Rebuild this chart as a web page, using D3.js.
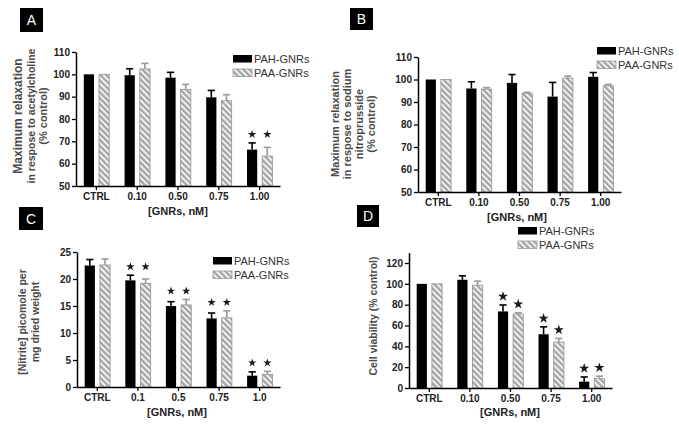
<!DOCTYPE html>
<html><head><meta charset="utf-8">
<script src="https://cdn.jsdelivr.net/npm/d3@7"></script>
<style>
html,body{margin:0;padding:0;background:#fff;}
svg{display:block;font-family:"Liberation Sans",Arial,sans-serif;}
</style></head>
<body>
<svg id="chart" width="679" height="426"></svg>
<script>
// ---- data ----
const seriesNames = ["PAH-GNRs", "PAA-GNRs"];
const catsAB = ["CTRL", "0.10", "0.50", "0.75", "1.00"];
const catsC = ["CTRL", "0.1", "0.5", "0.75", "1.0"];
const catsD = ["CTRL", "0.10", "0.50", "0.75", "1.00"];

const pahA = [100, 99.6, 98.5, 89.7, 66.3];
const pahAErr = [0, 2.9, 2.4, 3.1, 3.0];
const paaA = [100, 102.4, 93.2, 88.2, 63.4];
const paaAErr = [0, 2.5, 2.3, 2.7, 3.9];
const sigA = [false, false, false, false, true];

const pahB = [100, 96.0, 98.5, 92.4, 101.2];
const pahBErr = [0, 3.0, 3.7, 6.3, 1.9];
const paaB = [100, 95.7, 93.9, 100.6, 97.2];
const paaBErr = [0, 0.7, 0.4, 0.9, 0.6];
const sigB = [false, false, false, false, false];

const pahC = [22.5, 19.75, 15.0, 12.7, 2.1];
const pahCErr = [1.1, 0.95, 0.8, 1.0, 0.7];
const paaC = [22.6, 19.2, 15.2, 12.8, 2.35];
const paaCErr = [1.1, 0.8, 1.0, 1.3, 0.55];
const sigC = [false, true, true, true, true];

const pahD = [100, 103.9, 73.5, 51.6, 6.1];
const pahDErr = [0, 3.8, 6.2, 7.1, 4.5];
const paaD = [100, 98.7, 71.0, 44.1, 9.0];
const paaDErr = [0, 3.9, 1.3, 3.5, 2.3];
const sigD = [false, false, true, true, true];

const ticksAB = [50, 60, 70, 80, 90, 100, 110];
const ticksC = [0, 5, 10, 15, 20, 25];
const ticksD = [0, 20, 40, 60, 80, 100, 120];

const xTitle = "[GNRs, nM]";

// ---- drawing ----
const svg = d3.select("#chart");
const defs = svg.append("defs");
const pat = defs.append("pattern").attr("id", "hatch")
  .attr("patternUnits", "userSpaceOnUse").attr("width", 4.2).attr("height", 4.2)
  .attr("patternTransform", "rotate(-45)");
pat.append("rect").attr("width", 4.2).attr("height", 4.2).attr("fill", "#f2f2f2");
pat.append("rect").attr("width", 2.2).attr("height", 4.2).attr("fill", "#a3a3a3");

function panel(cfg) {
  const g = svg.append("g");
  const x = d3.scaleBand().domain(cfg.cats).range([cfg.x0, cfg.x1]).padding(0);
  const y = d3.scaleLinear().domain(cfg.domain).range([cfg.yb, cfg.yt]);
  const bw = 10.2;

  cfg.cats.forEach((c, i) => {
    const cx = x(c) + x.bandwidth() / 2;
    const base = y(cfg.domain[0]);
    const xa = cx - 12.6, xb = cx + 2.6;
    g.append("rect").attr("x", xa).attr("y", y(cfg.pah[i])).attr("width", bw)
      .attr("height", base - y(cfg.pah[i])).attr("fill", "#000");
    g.append("rect").attr("x", xb).attr("y", y(cfg.paa[i])).attr("width", bw)
      .attr("height", base - y(cfg.paa[i])).attr("fill", "url(#hatch)")
      .attr("stroke", "#9a9a9a").attr("stroke-width", 0.9);
    const eb = (xc, v, e, col) => {
      if (e <= 0) return;
      g.append("line").attr("x1", xc).attr("x2", xc).attr("y1", y(v)).attr("y2", y(v + e))
        .attr("stroke", col).attr("stroke-width", 1.6);
      g.append("line").attr("x1", xc - 3.6).attr("x2", xc + 3.6).attr("y1", y(v + e)).attr("y2", y(v + e))
        .attr("stroke", col).attr("stroke-width", 1.6);
    };
    eb(xa + bw / 2, cfg.pah[i], cfg.pahErr[i], "#000");
    eb(xb + bw / 2, cfg.paa[i], cfg.paaErr[i], "#9a9a9a");
    if (cfg.sig[i]) {
      const tA = y(cfg.pah[i] + cfg.pahErr[i]);
      const tB = y(cfg.paa[i] + cfg.paaErr[i]);
      let sA, sB;
      if (cfg.perBar) { sA = tA - 8.5; sB = tB - 8.5; }
      else { sA = sB = Math.min(tA, tB) - 8.5; }
      const star = d3.symbol().type(d3.symbolStar).size(cfg.starSize);
      g.append("path").attr("d", star()).attr("transform", `translate(${xa + bw / 2},${sA})`).attr("fill", "#1a1a1a");
      g.append("path").attr("d", star()).attr("transform", `translate(${xb + bw / 2},${sB})`).attr("fill", "#1a1a1a");
    }
  });

  const yAxis = d3.axisLeft(y).tickValues(cfg.ticks).tickSize(4).tickSizeOuter(0).tickPadding(2);
  const ya = g.append("g").attr("transform", `translate(${cfg.x0},0)`).call(yAxis);
  const xAxis = d3.axisBottom(x).tickSize(4).tickSizeOuter(0).tickPadding(3);
  const xa = g.append("g").attr("transform", `translate(0,${cfg.yb})`).call(xAxis);
  [ya, xa].forEach(a => {
    a.select(".domain").attr("stroke", "#000").attr("stroke-width", 1.5);
    a.selectAll(".tick line").attr("stroke", "#000").attr("stroke-width", 1.3);
    a.selectAll(".tick text").attr("fill", "#222").attr("font-size", 10).attr("font-weight", "bold")
      .attr("font-family", "Liberation Sans, Arial, sans-serif");
  });

  g.append("text").attr("x", cfg.xtX).attr("y", cfg.xtY).attr("text-anchor", "middle")
    .attr("font-size", 11).attr("font-weight", "bold").attr("fill", "#222").text(xTitle);

  cfg.yTitle.forEach((t, k) => {
    g.append("text").attr("transform", `translate(${cfg.ytX[k] + 3.6},${cfg.ytY}) rotate(-90)`)
      .attr("text-anchor", "middle").attr("font-size", cfg.ytSize[k]).attr("font-weight", "bold")
      .attr("fill", "#4a4a4a").text(t);
  });

  seriesNames.forEach((n, k) => {
    const ly = cfg.legY + k * 14;
    g.append("rect").attr("x", cfg.legX).attr("y", ly).attr("width", 19).attr("height", 7.5)
      .attr("fill", k === 0 ? "#000" : "url(#hatch)")
      .attr("stroke", k === 0 ? "none" : "#9a9a9a").attr("stroke-width", 0.8);
    g.append("text").attr("x", cfg.legX + 21).attr("y", ly + 8).attr("font-size", 11)
      .attr("fill", "#333").text(n);
  });

  g.append("rect").attr("x", cfg.lab[0]).attr("y", cfg.lab[1]).attr("width", cfg.lab[2]).attr("height", cfg.lab[3]).attr("fill", "#000");
  g.append("text").attr("x", cfg.lab[0] + cfg.lab[2] / 2).attr("y", cfg.lab[1] + cfg.lab[3] / 2 + 5)
    .attr("text-anchor", "middle").attr("font-size", 14).attr("fill", "#fff").text(cfg.letter);
}

panel({ cats: catsAB, pah: pahA, pahErr: pahAErr, paa: paaA, paaErr: paaAErr, sig: sigA, perBar: false, starSize: 22,
  domain: [50, 110], ticks: ticksAB, x0: 76, x1: 280, yb: 186, yt: 52,
  xtX: 178, xtY: 215, yTitle: ["Maximum relaxation", "in respose to acetylcholine", "(% control)"],
  ytSize: [12, 10.5, 11], ytX: [18, 31, 43], ytY: 116, legX: 233, legY: 55, lab: [20, 8, 23, 24], letter: "A" });

panel({ cats: catsAB, pah: pahB, pahErr: pahBErr, paa: paaB, paaErr: paaBErr, sig: sigB, perBar: false, starSize: 22,
  domain: [50, 110], ticks: ticksAB, x0: 418, x1: 621, yb: 192, yt: 57,
  xtX: 517, xtY: 221, yTitle: ["Maximum relaxation", "in respose to sodium", "nitroprusside", "(% control)"],
  ytSize: [11, 11, 11, 11], ytX: [335, 347, 359, 371], ytY: 124, legX: 597, legY: 47, lab: [350, 8, 23, 22], letter: "B" });

panel({ cats: catsC, pah: pahC, pahErr: pahCErr, paa: paaC, paaErr: paaCErr, sig: sigC, perBar: false, starSize: 22,
  domain: [0, 25], ticks: ticksC, x0: 77, x1: 280, yb: 387, yt: 252,
  xtX: 177, xtY: 416, yTitle: ["[Nitrite] picomole per", "mg dried weight"],
  ytSize: [10.5, 10.5], ytX: [22, 35], ytY: 322, legX: 213, legY: 257, lab: [19, 207, 24, 23], letter: "C" });

panel({ cats: catsD, pah: pahD, pahErr: pahDErr, paa: paaD, paaErr: paaDErr, sig: sigD, perBar: true, starSize: 32,
  domain: [0, 130], ticks: ticksD, x0: 409, x1: 612, yb: 388, yt: 252.6,
  xtX: 510, xtY: 416, yTitle: ["Cell viability (% control)"],
  ytSize: [10.5], ytX: [373], ytY: 316, legX: 518, legY: 227, lab: [357, 205, 22, 22], letter: "D" });
</script>
</body></html>
